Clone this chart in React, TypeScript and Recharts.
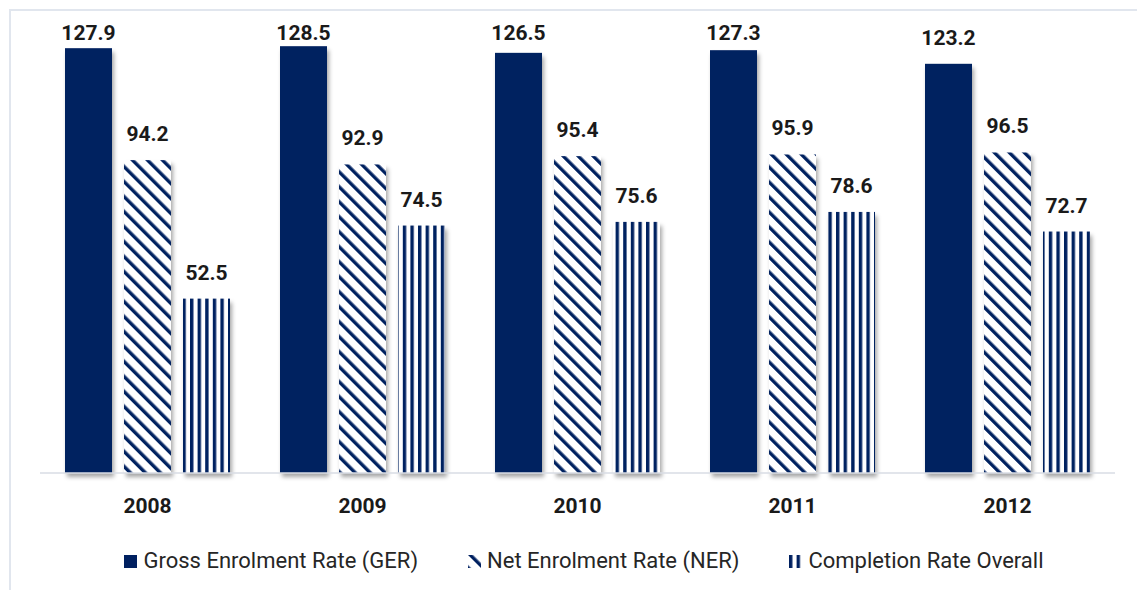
import { BarChart, Bar, XAxis, YAxis, LabelList, Legend } from 'recharts';

// chart values
const years = ['2008', '2009', '2010', '2011', '2012'];
const gerValues = [127.9, 128.5, 126.5, 127.3, 123.2];
const nerValues = [94.2, 92.9, 95.4, 95.9, 96.5];
const completionValues = [52.5, 74.5, 75.6, 78.6, 72.7];

const seriesNames = ['Gross Enrolment Rate (GER)', 'Net Enrolment Rate (NER)', 'Completion Rate Overall'];

const NAVY = '#002060';
const FONT = 'Roboto, "Noto Sans", sans-serif';

const data = years.map((year, i) => ({
  year,
  ger: gerValues[i],
  ner: nerValues[i],
  completion: completionValues[i],
}));

// bar with a soft drop shadow, like the Excel original
const ShadowBar = (props: any) => {
  const { x, y, width, height, fill } = props;
  if (!height || height <= 0) return null;
  return <rect x={x} y={y} width={width} height={height} fill={fill} filter="url(#barShadow)" />;
};

// value label above each bar; kept inside the chart area near the top
const ValueLabel = (props: any) => {
  const { x, y, width, value } = props;
  const ty = Math.max(y - 19, 40);
  return (
    <text
      x={x + width / 2}
      y={ty}
      textAnchor="middle"
      fontFamily={FONT}
      fontWeight={700}
      fontSize={21}
      fill="#1a1a1a"
    >
      {Number(value).toFixed(1)}
    </text>
  );
};

const legendFills = [NAVY, 'url(#nerStripes)', 'url(#completionStripes)'];

const ChartLegend = () => (
  <div
    style={{
      display: 'flex',
      justifyContent: 'center',
      alignItems: 'center',
      gap: 50,
      paddingLeft: 31,
      fontFamily: FONT,
      fontSize: 22,
      color: '#262626',
      lineHeight: '26px',
    }}
  >
    {seriesNames.map((name, i) => (
      <div key={name} style={{ display: 'flex', alignItems: 'center' }}>
        <svg width={13} height={13} style={{ marginRight: 6 }}>
          <rect x={0} y={0} width={13} height={13} fill={legendFills[i]} />
        </svg>
        <span>{name}</span>
      </div>
    ))}
  </div>
);

export default function App() {
  return (
    <div
      style={{
        position: 'fixed',
        left: 0,
        top: 0,
        width: 1137,
        height: 590,
        overflow: 'hidden',
        background: '#ffffff',
      }}
    >
      {/* chart area frame (only top and left edges fall inside the picture) */}
      <div
        style={{
          position: 'absolute',
          left: 9,
          top: 9,
          width: 1200,
          height: 700,
          border: '2px solid #e1e6ee',
          boxSizing: 'border-box',
        }}
      />
      <div style={{ position: 'absolute', left: 0, top: 0 }}>
        <BarChart
          width={1137}
          height={590}
          data={data}
          margin={{ top: 8, right: 22, left: 40, bottom: 87 }}
          barCategoryGap={25}
          barGap={12}
        >
          <defs>
            <filter id="barShadow" x="-20%" y="-5%" width="150%" height="120%">
              <feDropShadow dx={2} dy={4} stdDeviation={2.2} floodColor="#000" floodOpacity={0.35} />
            </filter>
            <pattern
              id="nerStripes"
              patternUnits="userSpaceOnUse"
              width={10.6}
              height={10.6}
              patternTransform="rotate(-45)"
            >
              <rect x={0} y={0} width={10.6} height={10.6} fill="#ffffff" />
              <rect x={0} y={0} width={3.4} height={10.6} fill={NAVY} />
            </pattern>
            <pattern id="completionStripes" patternUnits="userSpaceOnUse" width={7.6} height={10}>
              <rect x={0} y={0} width={7.6} height={10} fill="#ffffff" />
              <rect x={0} y={0} width={3.4} height={10} fill={NAVY} />
            </pattern>
          </defs>
          <XAxis
            dataKey="year"
            axisLine={{ stroke: '#d9dde4', strokeWidth: 1.5 }}
            tickLine={false}
            tickMargin={19}
            tick={{ fontFamily: FONT, fontWeight: 700, fontSize: 21, fill: '#1a1a1a' }}
          />
          <YAxis hide domain={[0, 140]} />
          <Legend verticalAlign="middle" layout="horizontal" content={<ChartLegend />} wrapperStyle={{ top: 548, left: 0, width: 1137 }} />
          <Bar dataKey="ger" name={seriesNames[0]} fill={NAVY} shape={ShadowBar} isAnimationActive={false}>
            <LabelList dataKey="ger" content={ValueLabel} />
          </Bar>
          <Bar dataKey="ner" name={seriesNames[1]} fill="url(#nerStripes)" shape={ShadowBar} isAnimationActive={false}>
            <LabelList dataKey="ner" content={ValueLabel} />
          </Bar>
          <Bar
            dataKey="completion"
            name={seriesNames[2]}
            fill="url(#completionStripes)"
            shape={ShadowBar}
            isAnimationActive={false}
          >
            <LabelList dataKey="completion" content={ValueLabel} />
          </Bar>
        </BarChart>
      </div>
    </div>
  );
}
